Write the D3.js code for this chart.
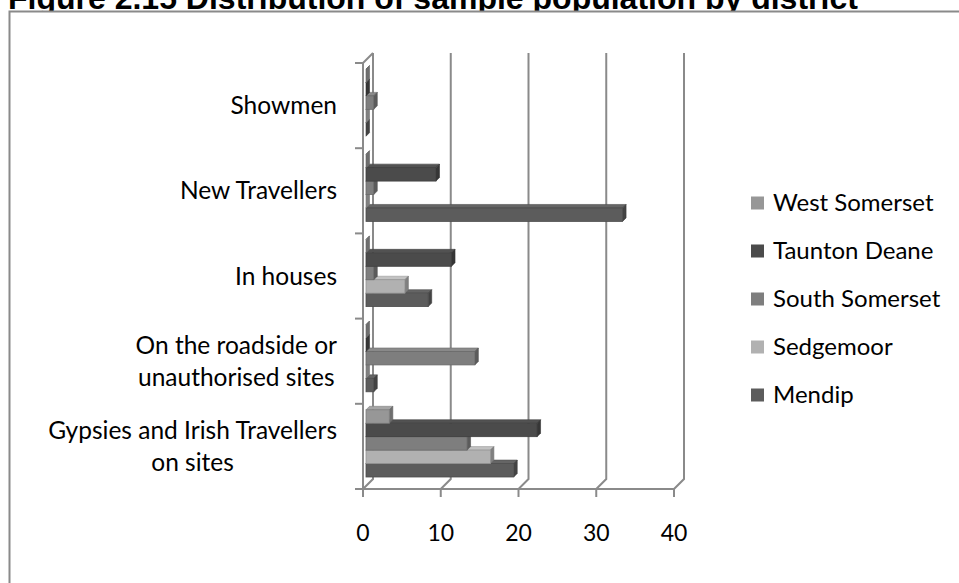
<!DOCTYPE html>
<html><head><meta charset="utf-8">
<script src="https://cdn.jsdelivr.net/npm/d3@7"></script>
<style>body{margin:0;background:#fff;overflow:hidden} svg{display:block}</style>
</head><body><svg id="c" width="959" height="583"></svg>
<script>
const title = "Figure 2.15 Distribution of sample population by district";
const categories = ["Gypsies and Irish Travellers\non sites", "On the roadside or\nunauthorised sites", "In houses", "New Travellers", "Showmen"];
const series = ["West Somerset", "Taunton Deane", "South Somerset", "Sedgemoor", "Mendip"];
const westSomerset  = [3, 0, 0, 0, 0];
const tauntonDeane  = [22, 0, 11, 9, 0];
const southSomerset = [13, 14, 1, 1, 1];
const sedgemoor     = [16, 0, 5, 0, 0];
const mendip        = [19, 1, 8, 33, 0];
const xTicks = [0, 10, 20, 30, 40];

const seriesValues = [westSomerset, tauntonDeane, southSomerset, sedgemoor, mendip];
const seriesColors = ["#979797", "#4b4b4b", "#7e7e7e", "#b1b1b1", "#5c5c5c"];
const FONT = "Lato, 'Open Sans', sans-serif";
const LINE = "#8a8a8a";

const svg = d3.select("#c");

// title
svg.append("text").attr("x", 8).attr("y", 9)
  .attr("font-family", "'Liberation Sans', Arial, sans-serif").attr("font-weight", "bold")
  .attr("font-size", 32).attr("fill", "#000").text(title);

// chart area border
svg.append("rect").attr("x", 9.5).attr("y", 11.5).attr("width", 1000).attr("height", 700)
  .attr("fill", "#fff").attr("stroke", LINE).attr("stroke-width", 2);

const x = d3.scaleLinear().domain([0, 40]).range([363, 674]);
const D = {dx: 10, dy: -10};
const y = d3.scaleBand().domain(categories).range([489, 63]);
const ys = d3.scaleBand().domain(series).range([9, y.bandwidth() - 9]);
const yTop = 63, yBot = 489;

const g = svg.append("g");
// back wall gridlines with floor diagonals
xTicks.forEach(t => {
  g.append("path")
    .attr("d", `M${x(t) + D.dx},${yTop + D.dy} L${x(t) + D.dx},${yBot + D.dy} L${x(t)},${yBot}`)
    .attr("fill", "none").attr("stroke", LINE).attr("stroke-width", 2);
});
// left wall top edge
g.append("path").attr("d", `M${x(0)},${yTop} L${x(0) + D.dx},${yTop + D.dy}`)
  .attr("fill", "none").attr("stroke", LINE).attr("stroke-width", 2);
// category axis line
g.append("line").attr("x1", x(0)).attr("x2", x(0)).attr("y1", yTop).attr("y2", yBot)
  .attr("stroke", LINE).attr("stroke-width", 2);
// value axis line
g.append("line").attr("x1", x(0)).attr("x2", x(40)).attr("y1", yBot).attr("y2", yBot)
  .attr("stroke", LINE).attr("stroke-width", 2);
// category ticks
const bounds = categories.map(c => y(c)).concat([y(categories[0]) + y.bandwidth()]);
bounds.forEach(b => {
  g.append("line").attr("x1", x(0) - 8).attr("x2", x(0)).attr("y1", b).attr("y2", b)
    .attr("stroke", LINE).attr("stroke-width", 2);
});
// value ticks + labels
xTicks.forEach(t => {
  g.append("line").attr("x1", x(t)).attr("x2", x(t)).attr("y1", yBot).attr("y2", yBot + 8)
    .attr("stroke", LINE).attr("stroke-width", 2);
  g.append("text").attr("x", x(t)).attr("y", 541).attr("text-anchor", "middle")
    .attr("font-family", FONT).attr("font-size", 23).attr("fill", "#000").text(t);
});

// bars
const bdx = 3, bdy = -3, bd = 3.5;
categories.forEach((c, ci) => {
  for (let si = series.length - 1; si >= 0; si--) {
    const v = seriesValues[si][ci];
    const col = d3.color(seriesColors[si]);
    const x0 = x(0) + bdx, x1 = x(v) + bdx;
    const yt = y(c) + ys(series[si]) + bdy, h = ys.bandwidth();
    const bg = g.append("g");
    bg.append("path")
      .attr("d", `M${x0},${yt} L${x1},${yt} L${x1 + bd},${yt - bd} L${x0 + bd},${yt - bd}Z`)
      .attr("fill", col.brighter(0.25)).attr("stroke", col.darker(0.4)).attr("stroke-width", 0.6);
    bg.append("path")
      .attr("d", `M${x1},${yt} L${x1 + bd},${yt - bd} L${x1 + bd},${yt - bd + h} L${x1},${yt + h}Z`)
      .attr("fill", col.darker(0.9)).attr("stroke", col.darker(1.2)).attr("stroke-width", 0.6);
    if (v > 0) {
      bg.append("rect").attr("x", x0).attr("y", yt).attr("width", x1 - x0).attr("height", h)
        .attr("fill", col).attr("stroke", col.darker(0.5)).attr("stroke-width", 0.8);
    }
  }
});

// category labels
const LH = 32;
categories.forEach(c => {
  const lines = c.split("\n");
  const cy = y(c) + y.bandwidth() / 2;
  const tg = svg.append("g");
  const texts = lines.map((ln, i) => tg.append("text")
    .attr("y", cy + (i - (lines.length - 1) / 2) * LH).attr("dy", "0.35em")
    .attr("text-anchor", "middle")
    .attr("font-family", FONT).attr("font-size", 24.5).attr("fill", "#000").text(ln));
  const maxW = d3.max(texts, t => t.node().getComputedTextLength());
  texts.forEach(t => t.attr("x", 337 - maxW / 2));
});

// legend
series.forEach((s, i) => {
  const ly = 203 + i * 48;
  svg.append("rect").attr("x", 751).attr("y", ly - 6.5).attr("width", 13).attr("height", 13)
    .attr("fill", seriesColors[i]);
  svg.append("text").attr("x", 773).attr("y", ly).attr("dy", "0.35em")
    .attr("font-family", FONT).attr("font-size", 24).attr("fill", "#000").text(s);
});
</script>
</body></html>
